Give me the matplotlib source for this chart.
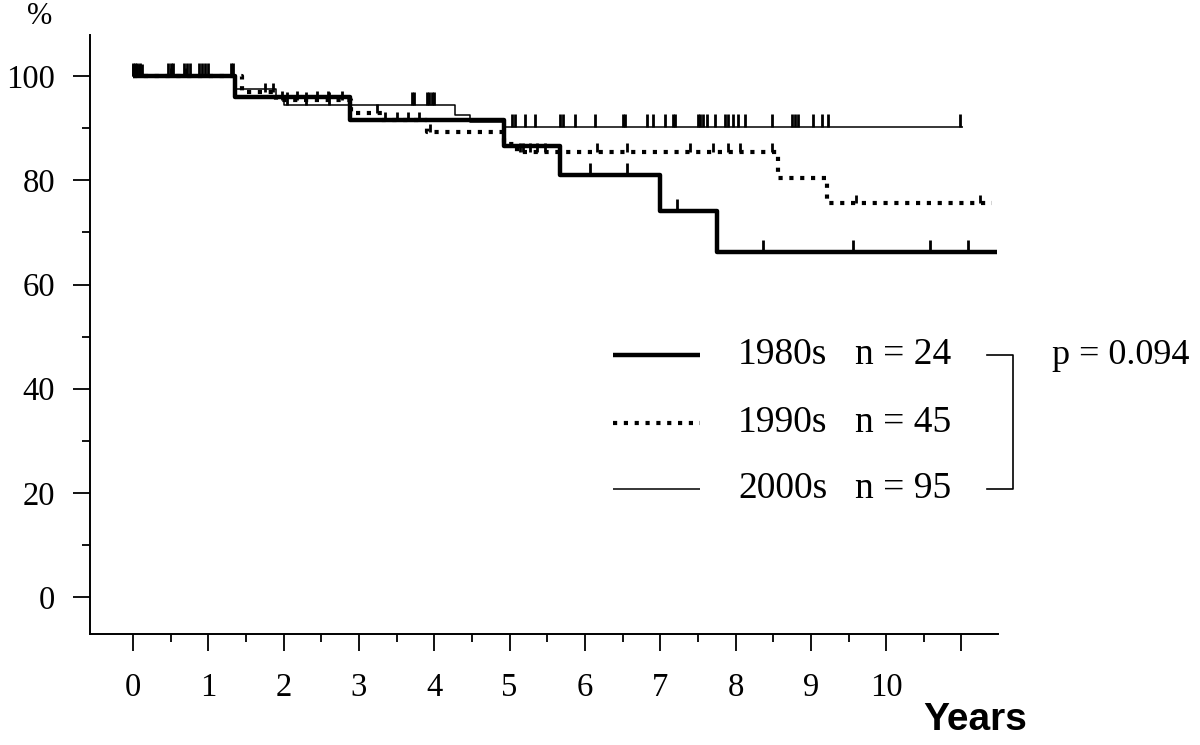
import numpy as np
import matplotlib
matplotlib.use("Agg")
import matplotlib.pyplot as plt
from matplotlib.lines import Line2D

plt.rcParams["font.family"] = "Liberation Serif"

# survival steps (years, % survival)
t_80s = [0, 1.35, 2.88, 4.92, 5.67, 7.0, 7.76]
s_80s = [100, 96, 91.5, 86.5, 81, 74.2, 66.2]
end_80s = 11.47
cens_80s = [0, 0.04, 0.08, 0.12, 6.07, 6.56, 7.22, 8.36, 9.56, 10.58, 11.08]

t_90s = [0, 1.45, 1.9, 2.9, 3.3, 3.9, 4.92, 5.1, 8.57, 9.21]
s_90s = [100, 97, 95.5, 93, 91.5, 89.3, 87, 85.5, 80.4, 75.6]
end_90s = 11.4
cens_90s = [0.5, 0.7, 1.75, 1.86, 1.98, 2.18, 2.44, 2.59, 2.78, 3.24, 3.35, 3.5,
            3.65, 3.8, 3.95, 5.14, 5.18, 5.27, 5.36, 5.47, 6.16, 6.56, 7.4, 7.7,
            7.9, 8.06, 8.49, 9.6, 11.25]

t_00s = [0, 1.35, 1.9, 2.0, 4.28, 4.47, 4.94]
s_00s = [100, 97.5, 96, 94.5, 92.5, 91.2, 90.2]
end_00s = 11.02
cens_00s = [0, 0.03, 0.06, 0.09, 0.47, 0.5, 0.53, 0.68, 0.72, 0.76, 0.88, 0.92,
            0.96, 1.0, 1.3, 1.33, 2.05, 2.3, 2.6, 3.7, 3.73, 3.9, 3.93, 3.97, 4.0,
            5.03, 5.07, 5.2, 5.34, 5.67, 5.71, 5.87, 6.13, 6.51, 6.53, 6.82,
            6.91, 7.06, 7.17, 7.2, 7.5, 7.53, 7.57, 7.62, 7.73, 7.86, 7.9, 7.97,
            8.03, 8.13, 8.49, 8.75, 8.79, 8.83, 9.03, 9.15, 9.23, 10.98]

labels = ["1980s", "1990s", "2000s"]
n_pat = [24, 45, 95]
p_value = "p = 0.094"

x_ticks = list(range(12))
x_labels = [str(i) for i in range(11)] + [""]
y_ticks = [0, 20, 40, 60, 80, 100]

series = [
    (t_80s, s_80s, end_80s, cens_80s, dict(lw=3.2, ls="-"), 2.3),
    (t_90s, s_90s, end_90s, cens_90s, dict(lw=3.0, ls=(0, (1, 1.6))), 1.6),
    (t_00s, s_00s, end_00s, cens_00s, dict(lw=1.1, ls="-"), 2.5),
]

fig = plt.figure(figsize=(12, 7.45), dpi=100)
ax = fig.add_axes([0.075, 0.149, 0.757, 0.804])

for t, s, end, cens, style, h in series:
    xs = list(t) + [end]
    ys = list(s) + [s[-1]]
    ax.step(xs, ys, where="post", color="black", solid_capstyle="butt", **style)
    idx = np.searchsorted(t, cens, side="right") - 1
    lev = np.array(s)[idx]
    ax.vlines(cens, lev, lev + h, color="black", lw=2.0)

ax.set_xlim(-0.57, 11.49)
ax.set_ylim(-7.1, 107.9)
for side in ["top", "right"]:
    ax.spines[side].set_visible(False)
for side in ["left", "bottom"]:
    ax.spines[side].set_linewidth(1.4)

ax.set_xticks(x_ticks)
ax.set_xticklabels(x_labels)
ax.set_xticks(np.arange(0.5, 11, 1), minor=True)
ax.set_yticks(y_ticks)
ax.set_yticks([10, 30, 50, 70, 90], minor=True)
ax.tick_params(which="major", direction="out", length=12, width=1.3, labelsize=23.5)
ax.tick_params(which="minor", direction="out", length=6, width=1.3)
ax.tick_params(axis="y", which="major", pad=13)
ax.tick_params(axis="x", which="major", pad=16)

fig.text(40 / 1200, 1 - 17 / 745, "%", fontsize=22, ha="center", va="center")
fig.text(975 / 1200, 1 - 720 / 745, "Years", fontsize=28, fontweight="bold",
         family="Liberation Sans", ha="center", va="center")

# legend drawn by hand to keep the bracket and p value next to it
rows = [355, 423, 489]
for lab, n, (t, s, end, cens, style, h), py in zip(labels, n_pat, series, rows):
    y = 1 - py / 745
    fig.add_artist(Line2D([613 / 1200, 700 / 1200], [y, y], color="black",
                          solid_capstyle="butt", **style))
    fig.text(738 / 1200, y, lab, fontsize=27, va="center", ha="left")
    fig.text(855 / 1200, y, "n = %d" % n, fontsize=27, va="center", ha="left")

bx0, bx1 = 987 / 1200, 1013 / 1200
by0, by1 = 1 - rows[0] / 745, 1 - rows[-1] / 745
fig.add_artist(Line2D([bx0, bx1, bx1, bx0], [by0, by0, by1, by1], color="black", lw=1.2))
fig.text(1052 / 1200, by0, p_value, fontsize=26, va="center", ha="left")

fig.savefig("out.png", dpi=100)
